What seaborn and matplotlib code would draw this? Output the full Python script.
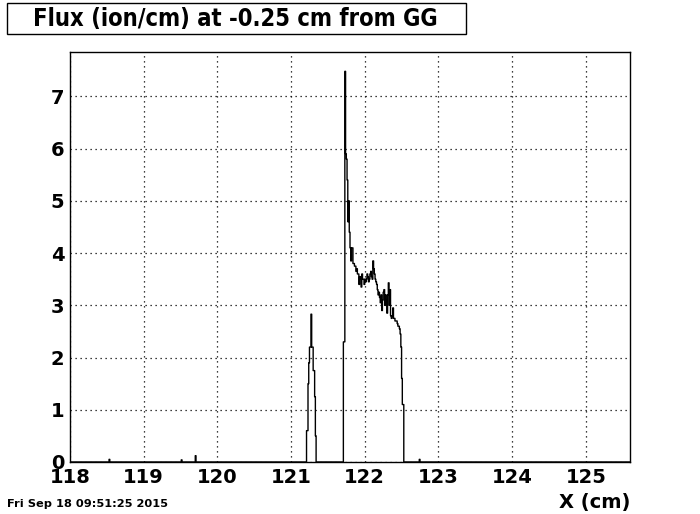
import numpy as np
import pandas as pd
import matplotlib
matplotlib.use("Agg")
import matplotlib.pyplot as plt
import seaborn as sns
from matplotlib.ticker import MultipleLocator
from matplotlib.patches import Rectangle

# ---- data (bin lower edges in cm, flux in ion/cm), bin width 0.01 cm ----
small_x = [118.53, 119.51, 119.70, 122.74]
small_y = [0.05, 0.04, 0.12, 0.05]

peak1_x = [121.21, 121.22, 121.23, 121.24, 121.25, 121.26, 121.27,
           121.28, 121.29, 121.30, 121.31, 121.32, 121.33]
peak1_y = [0.6, 0.6, 1.5, 1.9, 2.2, 2.2, 2.83,
           2.2, 2.2, 1.75, 1.75, 1.25, 0.5]

peak2_start = 121.71
peak2_y = [2.3, 2.3, 7.48, 5.9, 5.8, 5.4, 4.6, 5.0, 4.4, 4.1,
           3.85, 4.1, 4.1, 3.8, 3.8, 3.75, 3.75, 3.65, 3.7, 3.6,
           3.6, 3.4, 3.55, 3.5, 3.35, 3.6, 3.5, 3.5, 3.4, 3.5,
           3.45, 3.5, 3.6, 3.55, 3.45, 3.5, 3.6, 3.65, 3.55, 3.5,
           3.85, 3.7, 3.6, 3.5, 3.45, 3.4, 3.3, 3.2, 3.25, 3.15,
           3.05, 3.2, 2.9, 3.1, 3.25, 3.3, 3.0, 3.2, 3.1, 2.85,
           3.2, 3.43, 3.0, 3.3, 2.8, 2.75, 2.8, 2.95, 2.75, 2.75,
           2.7, 2.7, 2.7, 2.65, 2.6, 2.6, 2.55, 2.45, 2.2, 1.6,
           1.1, 1.1]
bin_width = 0.01
x_min, x_max = 118.0, 125.6
y_max = 7.85

title = "Flux (ion/cm) at -0.25 cm from GG"
x_label = "X (cm)"
stamp = "Fri Sep 18 09:51:25 2015"

# ---- build histogram table ----
peak2_x = [peak2_start + i * bin_width for i in range(len(peak2_y))]
df = pd.DataFrame({
    "x": np.array(small_x + peak1_x + peak2_x) + bin_width / 2,
    "w": small_y + peak1_y + peak2_y,
})

sns.set_style("white")
plt.rcParams["font.family"] = ["DejaVu Sans"]
plt.rcParams["font.weight"] = "bold"
plt.rcParams["text.color"] = "black"
plt.rcParams["axes.labelcolor"] = "black"
plt.rcParams["xtick.color"] = "black"
plt.rcParams["ytick.color"] = "black"

fig = plt.figure(figsize=(7.0, 5.14), dpi=100)
ax = fig.add_axes([0.1, 0.1012, 0.8, 0.7976])

sns.histplot(data=df, x="x", weights="w", binwidth=bin_width,
             binrange=(x_min, x_max), element="step",
             fill=False, color="black", linewidth=1.0, ax=ax)

ax.set_xlim(x_min, x_max)
ax.set_ylim(0, y_max)
ax.set_xlabel("")
ax.set_ylabel("")
ax.xaxis.set_major_locator(MultipleLocator(1))
ax.xaxis.set_minor_locator(MultipleLocator(0.2))
ax.yaxis.set_major_locator(MultipleLocator(1))
ax.yaxis.set_minor_locator(MultipleLocator(0.2))
ax.grid(True, which="major", color="black", linestyle=(0, (1, 3)), linewidth=0.9)
ax.tick_params(axis="both", which="both", direction="in", top=False, right=False,
               colors="black", labelcolor="black", labelsize=14, width=1)
ax.tick_params(axis="x", which="major", length=12, pad=4)
ax.tick_params(axis="x", which="minor", length=6)
ax.tick_params(axis="y", which="major", length=17, pad=4)
ax.tick_params(axis="y", which="minor", length=9)
for lab in ax.get_xticklabels() + ax.get_yticklabels():
    lab.set_fontweight("bold")
for s in ax.spines.values():
    s.set_color("black")
    s.set_linewidth(1.0)

fig.text(0.9, 0.004, x_label, ha="right", va="bottom", fontsize=14,
         fontweight="bold", color="black")
fig.text(0.01, 0.01, stamp, ha="left", va="bottom", fontsize=8.2,
         fontweight="bold", color="black")

# title box (ROOT-style pave)
fig.patches.append(Rectangle((7 / 700, 1 - 34 / 514), 459 / 700, 31 / 514,
                             transform=fig.transFigure, facecolor="white",
                             edgecolor="black", linewidth=1.0))
fig.text(235.5 / 700, 1 - 19 / 514, title, ha="center", va="center",
         fontsize=17, fontweight="bold", fontstretch="condensed",
         family=["DejaVu Sans Condensed", "DejaVu Sans"], color="black")

fig.savefig("out.png", dpi=100)
